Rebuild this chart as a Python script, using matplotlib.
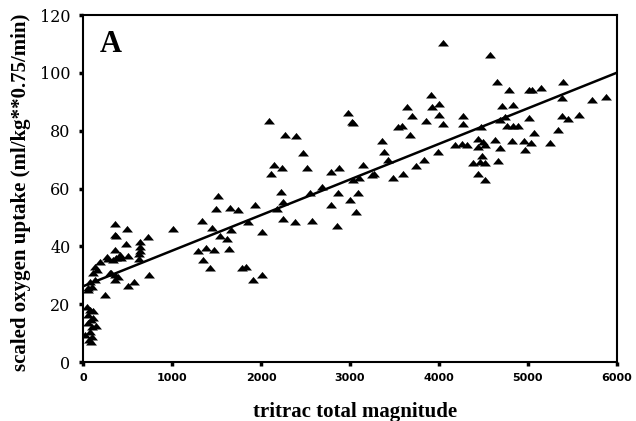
import numpy as np
import matplotlib
matplotlib.use("Agg")
import matplotlib.pyplot as plt

# tritrac total magnitude (x) and scaled oxygen uptake (y)
x_vals = [40, 80, 110, 60, 116, 90, 60, 150, 100, 80, 25, 100, 70, 95,
          60, 79, 135, 116, 154, 135, 191, 247, 100, 56,
          266, 281, 318, 303, 363, 498, 360, 374, 730, 637, 487, 637, 360, 416,
          367, 431, 506, 626, 630, 360, 393, 356, 506, 573, 738, 635, 341,
          1015, 1333, 1494, 1521, 1652, 1745, 1933, 1446, 1663, 1850, 2008, 1539,
          1614, 1296, 1382, 1475, 1644, 1352, 1427, 1783, 1831, 1914, 2008, 2093,
          2146, 2232, 2109, 2225, 2251, 2176, 2251,
          2270, 2393, 2468, 2520, 2382, 2570, 2551, 2682, 2783, 2880, 2869, 3093,
          3000, 2787, 3067, 2851, 2981, 3019, 3037, 3030, 3105, 3149,
          3244, 3270, 3356, 3386, 3431, 3487, 3543, 3581, 3599, 3637, 3674, 3693,
          3738, 3831, 3854, 3907, 3918,
          4003, 4003, 4049, 4049, 3985, 4180, 4255, 4311, 4273, 4266, 4442, 4498,
          4442, 4517, 4479, 4461, 4517, 4386, 4442, 4517, 4469, 4573, 4648, 4629,
          4685, 4666, 4704, 4742, 4685,
          4790, 5015, 5041, 5146, 5397, 5378, 5715, 5880, 4828, 5011, 5378, 5446,
          5570, 4760, 4835, 4891, 5071, 5340, 4817, 4955, 5030, 5247, 4966]
y_vals = [19, 18, 17.5, 16.3, 15.2, 14.5, 13.5, 12.5, 12, 10.5, 9.3, 8.5, 7.6, 7,
          25.5, 27.8, 28.4, 30.7, 31.8, 33, 34.7, 23.2, 26, 24.9,
          36.4, 35.8, 30.9, 30.7, 47.7, 46, 43.9, 43.6, 43.1, 41.6, 40.7, 39.9, 38.7, 37,
          35.9, 35.9, 36.8, 35.5, 37.5, 30, 29.5, 28.4, 26.3, 27.8, 30, 38.3, 35.3,
          46.2, 48.9, 52.9, 57.4, 53.3, 52.7, 54.2, 46.4, 45.6, 48.3, 45, 43.6,
          42.4, 38.5, 39.3, 38.7, 39.2, 35.3, 32.4, 32.6, 33, 28.4, 30.1, 83.4,
          68.1, 67.3, 65.2, 58.9, 55.4, 52.9, 49.5,
          78.7, 78.1, 72.4, 67.1, 48.5, 48.9, 58.6, 60.5, 65.6, 67, 58.6, 58.6,
          56.2, 54.4, 52, 47, 86.2, 83.1, 82.7, 62.9, 63.6, 68,
          64.7, 65, 76.6, 72.7, 70, 63.7, 81.4, 81.5, 65, 88.2, 78.5, 85.1,
          67.8, 69.8, 83.5, 92.3, 88.4,
          89.3, 85.4, 110.3, 82.3, 72.7, 75, 75.6, 75, 85.1, 82.3, 77.3, 76.2,
          74.4, 75, 71.2, 69.3, 68.7, 68.9, 65, 62.9, 81.2, 106.3, 96.8, 76.8,
          73.9, 69.6, 88.6, 84.8, 83.9,
          94.1, 94, 94, 94.9, 97, 91.2, 90.5, 91.7, 88.9, 84.5, 85, 84.2,
          85.6, 81.6, 81.6, 81.6, 79.3, 80.2, 76.5, 76.5, 75.9, 75.9, 73.5]

# regression line ends
fit_x = [0, 6000]
fit_y = [26.2, 100.1]

x_ticks = [0, 1000, 2000, 3000, 4000, 5000, 6000]
y_ticks = [0, 20, 40, 60, 80, 100, 120]

fig = plt.figure(figsize=(6.36, 4.21), dpi=100)
ax = fig.add_axes([0.1305, 0.140, 0.8395, 0.824])

tri = [(-1, -0.55), (1, -0.55), (0, 0.65), (-1, -0.55)]
ax.scatter(x_vals, y_vals, marker=tri, s=62, c='black', linewidths=0, zorder=3)
ax.plot(fit_x, fit_y, color='black', lw=1.8, zorder=2)

ax.set_xlim(0, 6000)
ax.set_ylim(0, 120)
ax.set_xticks(x_ticks)
ax.set_yticks(y_ticks)
ax.set_xticklabels([str(v) for v in x_ticks], family='DejaVu Sans',
                   fontweight='bold', fontsize=8)
ax.set_yticklabels([str(v) for v in y_ticks], family='DejaVu Serif',
                   fontsize=11.5)
ax.tick_params(direction='out', length=3, width=2.5)
ax.tick_params(axis='x', pad=5)
ax.tick_params(axis='y', pad=6)

for sp in ax.spines.values():
    sp.set_linewidth(1.5)

ax.set_xlabel('tritrac total magnitude', family='Liberation Serif',
              fontweight='bold', fontsize=15)
ax.xaxis.set_label_coords(0.509, -0.115)
ax.set_ylabel('scaled oxygen uptake (ml/kg**0.75/min)', family='Liberation Serif',
              fontweight='bold', fontsize=15)
ax.yaxis.set_label_coords(-0.097, 0.49)

ax.text(0.032, 0.895, 'A', transform=ax.transAxes, family='Liberation Serif',
        fontweight='bold', fontsize=22)

fig.savefig('out.png', dpi=100)
